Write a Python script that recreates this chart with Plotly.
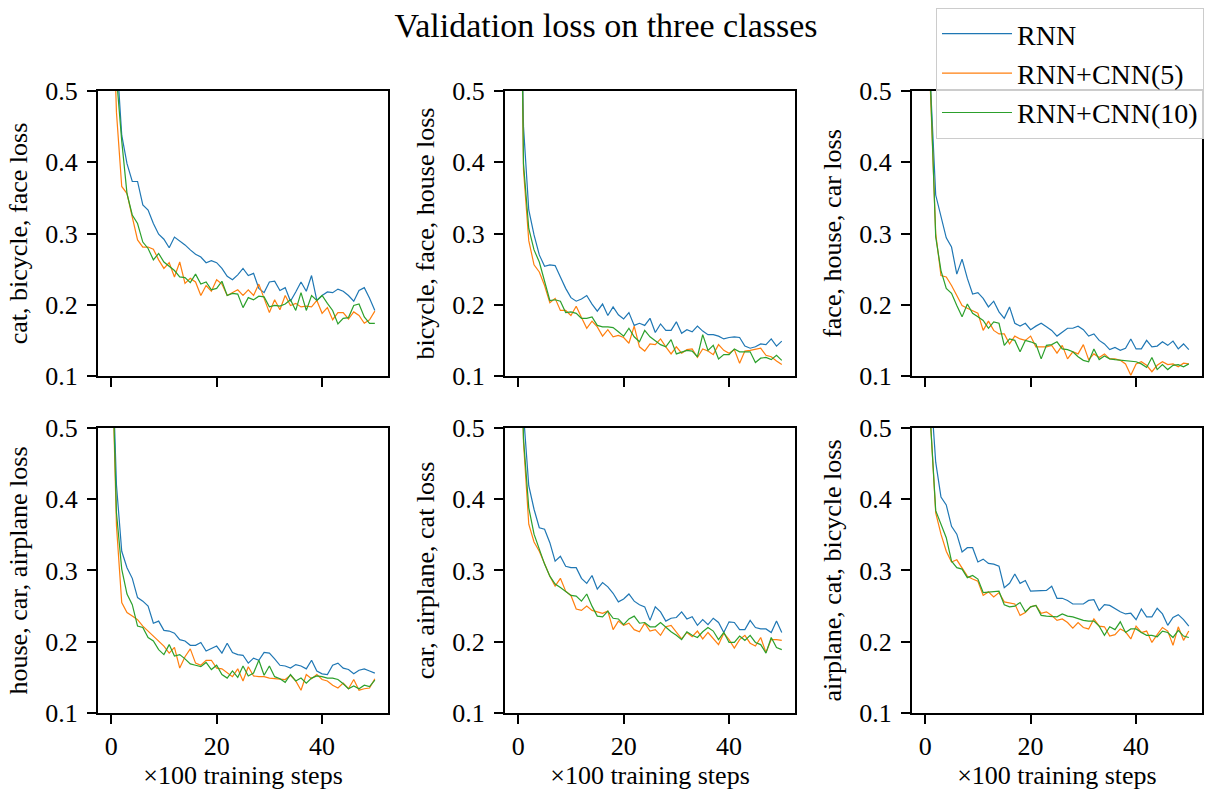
import plotly.graph_objects as go

steps = list(range(51))

series_names = ["RNN", "RNN+CNN(5)", "RNN+CNN(10)"]
series_colors = ["#1f77b4", "#ff7f0e", "#2ca02c"]

panel_labels = [
    "cat, bicycle, face loss",
    "bicycle, face, house loss",
    "face, house, car loss",
    "house, car, airplane loss",
    "car, airplane, cat loss",
    "airplane, cat, bicycle loss",
]

p1_rnn = [0.80, 0.554, 0.438, 0.398, 0.373, 0.373, 0.340, 0.333, 0.314, 0.299, 0.292, 0.280, 0.295, 0.290, 0.284, 0.277, 0.271, 0.267, 0.259, 0.262, 0.259, 0.251, 0.240, 0.235, 0.242, 0.251, 0.241, 0.244, 0.223, 0.217, 0.232, 0.233, 0.220, 0.224, 0.205, 0.218, 0.232, 0.219, 0.241, 0.206, 0.213, 0.218, 0.217, 0.222, 0.219, 0.213, 0.205, 0.220, 0.224, 0.209, 0.192]
p1_cnn5 = [0.70, 0.47, 0.366, 0.356, 0.323, 0.291, 0.281, 0.281, 0.278, 0.263, 0.251, 0.259, 0.239, 0.260, 0.230, 0.237, 0.232, 0.213, 0.227, 0.219, 0.235, 0.229, 0.213, 0.217, 0.221, 0.213, 0.221, 0.213, 0.229, 0.209, 0.189, 0.207, 0.193, 0.213, 0.199, 0.202, 0.197, 0.198, 0.197, 0.206, 0.188, 0.196, 0.179, 0.189, 0.189, 0.180, 0.190, 0.185, 0.174, 0.179, 0.191]
p1_cnn10 = [0.80, 0.52, 0.43, 0.356, 0.326, 0.314, 0.288, 0.279, 0.263, 0.272, 0.260, 0.254, 0.248, 0.239, 0.238, 0.231, 0.243, 0.229, 0.232, 0.221, 0.223, 0.233, 0.213, 0.216, 0.215, 0.196, 0.210, 0.207, 0.212, 0.211, 0.197, 0.199, 0.198, 0.201, 0.207, 0.192, 0.217, 0.192, 0.213, 0.206, 0.213, 0.202, 0.192, 0.173, 0.181, 0.182, 0.199, 0.201, 0.183, 0.174, 0.174]

p2_rnn = [0.87, 0.450, 0.333, 0.298, 0.270, 0.254, 0.256, 0.255, 0.239, 0.223, 0.210, 0.205, 0.208, 0.213, 0.201, 0.191, 0.201, 0.185, 0.197, 0.186, 0.180, 0.189, 0.171, 0.174, 0.171, 0.181, 0.161, 0.173, 0.164, 0.164, 0.176, 0.160, 0.165, 0.162, 0.170, 0.163, 0.158, 0.158, 0.156, 0.152, 0.154, 0.155, 0.154, 0.142, 0.139, 0.141, 0.145, 0.144, 0.152, 0.142, 0.149]
p2_cnn5 = [1.0, 0.389, 0.290, 0.256, 0.246, 0.227, 0.203, 0.209, 0.192, 0.192, 0.185, 0.198, 0.182, 0.167, 0.177, 0.169, 0.156, 0.165, 0.155, 0.157, 0.154, 0.146, 0.170, 0.141, 0.135, 0.145, 0.144, 0.152, 0.141, 0.131, 0.141, 0.132, 0.137, 0.138, 0.126, 0.138, 0.135, 0.130, 0.144, 0.136, 0.132, 0.137, 0.118, 0.135, 0.136, 0.138, 0.139, 0.129, 0.127, 0.121, 0.116]
p2_cnn10 = [1.0, 0.398, 0.307, 0.277, 0.260, 0.234, 0.206, 0.207, 0.205, 0.189, 0.190, 0.188, 0.181, 0.181, 0.183, 0.171, 0.169, 0.169, 0.168, 0.162, 0.156, 0.167, 0.155, 0.148, 0.164, 0.155, 0.149, 0.144, 0.141, 0.151, 0.131, 0.134, 0.136, 0.135, 0.127, 0.158, 0.136, 0.143, 0.124, 0.130, 0.130, 0.138, 0.134, 0.134, 0.134, 0.119, 0.125, 0.126, 0.123, 0.129, 0.122]

p3_rnn = [0.80, 0.51, 0.354, 0.323, 0.294, 0.281, 0.243, 0.264, 0.237, 0.215, 0.217, 0.209, 0.197, 0.205, 0.190, 0.181, 0.197, 0.174, 0.170, 0.174, 0.165, 0.170, 0.174, 0.169, 0.164, 0.156, 0.162, 0.167, 0.167, 0.170, 0.165, 0.156, 0.159, 0.150, 0.145, 0.137, 0.140, 0.136, 0.139, 0.152, 0.138, 0.138, 0.150, 0.141, 0.142, 0.148, 0.143, 0.149, 0.138, 0.145, 0.137]
p3_cnn5 = [0.80, 0.50, 0.300, 0.241, 0.239, 0.227, 0.213, 0.199, 0.195, 0.192, 0.188, 0.164, 0.177, 0.164, 0.159, 0.159, 0.145, 0.156, 0.152, 0.150, 0.156, 0.141, 0.141, 0.141, 0.143, 0.132, 0.143, 0.124, 0.134, 0.131, 0.144, 0.123, 0.131, 0.126, 0.131, 0.124, 0.124, 0.122, 0.117, 0.101, 0.117, 0.120, 0.115, 0.106, 0.115, 0.120, 0.116, 0.117, 0.113, 0.118, 0.117]
p3_cnn10 = [0.80, 0.51, 0.295, 0.248, 0.223, 0.216, 0.199, 0.183, 0.201, 0.188, 0.183, 0.178, 0.167, 0.176, 0.174, 0.143, 0.152, 0.150, 0.134, 0.150, 0.148, 0.145, 0.124, 0.143, 0.144, 0.148, 0.138, 0.137, 0.134, 0.127, 0.122, 0.120, 0.138, 0.123, 0.128, 0.124, 0.123, 0.122, 0.121, 0.121, 0.120, 0.117, 0.112, 0.126, 0.109, 0.116, 0.109, 0.115, 0.116, 0.113, 0.117]

p4_rnn = [0.65, 0.42, 0.327, 0.304, 0.289, 0.262, 0.257, 0.250, 0.226, 0.229, 0.216, 0.215, 0.212, 0.203, 0.201, 0.195, 0.195, 0.199, 0.187, 0.190, 0.194, 0.184, 0.198, 0.185, 0.182, 0.181, 0.170, 0.177, 0.174, 0.185, 0.184, 0.176, 0.167, 0.166, 0.163, 0.168, 0.166, 0.162, 0.174, 0.159, 0.155, 0.154, 0.167, 0.170, 0.163, 0.161, 0.155, 0.160, 0.162, 0.159, 0.156]
p4_cnn5 = [0.65, 0.363, 0.255, 0.241, 0.236, 0.231, 0.222, 0.215, 0.208, 0.202, 0.194, 0.184, 0.192, 0.163, 0.179, 0.190, 0.170, 0.167, 0.174, 0.174, 0.163, 0.162, 0.157, 0.151, 0.162, 0.145, 0.165, 0.152, 0.151, 0.151, 0.149, 0.148, 0.148, 0.147, 0.153, 0.145, 0.132, 0.154, 0.148, 0.154, 0.147, 0.145, 0.139, 0.135, 0.142, 0.134, 0.147, 0.132, 0.134, 0.135, 0.148]
p4_cnn10 = [0.65, 0.381, 0.302, 0.267, 0.252, 0.222, 0.220, 0.206, 0.201, 0.189, 0.182, 0.196, 0.180, 0.182, 0.176, 0.169, 0.167, 0.165, 0.171, 0.161, 0.167, 0.154, 0.149, 0.159, 0.150, 0.166, 0.152, 0.156, 0.174, 0.153, 0.166, 0.151, 0.148, 0.143, 0.154, 0.145, 0.149, 0.142, 0.149, 0.152, 0.151, 0.149, 0.149, 0.147, 0.141, 0.134, 0.138, 0.134, 0.139, 0.137, 0.146]

p5_rnn = [0.80, 0.52, 0.419, 0.386, 0.360, 0.358, 0.339, 0.313, 0.320, 0.306, 0.304, 0.304, 0.289, 0.282, 0.293, 0.274, 0.283, 0.277, 0.268, 0.256, 0.260, 0.267, 0.257, 0.252, 0.249, 0.230, 0.249, 0.242, 0.229, 0.233, 0.234, 0.242, 0.232, 0.235, 0.223, 0.231, 0.224, 0.233, 0.227, 0.213, 0.228, 0.227, 0.217, 0.217, 0.230, 0.220, 0.218, 0.218, 0.213, 0.229, 0.213]
p5_cnn5 = [0.80, 0.48, 0.365, 0.340, 0.327, 0.310, 0.292, 0.278, 0.289, 0.271, 0.265, 0.246, 0.244, 0.250, 0.244, 0.242, 0.240, 0.243, 0.217, 0.229, 0.223, 0.226, 0.217, 0.214, 0.226, 0.215, 0.217, 0.209, 0.221, 0.223, 0.214, 0.204, 0.213, 0.207, 0.215, 0.204, 0.213, 0.204, 0.196, 0.212, 0.203, 0.191, 0.203, 0.209, 0.198, 0.194, 0.206, 0.185, 0.203, 0.203, 0.202]
p5_cnn10 = [0.80, 0.485, 0.388, 0.351, 0.330, 0.309, 0.292, 0.281, 0.276, 0.271, 0.265, 0.264, 0.257, 0.267, 0.250, 0.236, 0.235, 0.243, 0.233, 0.232, 0.224, 0.232, 0.236, 0.226, 0.227, 0.221, 0.221, 0.227, 0.220, 0.214, 0.209, 0.203, 0.214, 0.209, 0.206, 0.214, 0.220, 0.215, 0.203, 0.213, 0.199, 0.199, 0.208, 0.202, 0.209, 0.199, 0.196, 0.184, 0.206, 0.192, 0.189]

p6_rnn = [0.80, 0.56, 0.452, 0.403, 0.392, 0.362, 0.351, 0.326, 0.332, 0.332, 0.312, 0.316, 0.310, 0.309, 0.306, 0.276, 0.282, 0.295, 0.282, 0.286, 0.271, 0.271, 0.272, 0.272, 0.278, 0.261, 0.261, 0.258, 0.253, 0.253, 0.253, 0.258, 0.259, 0.244, 0.252, 0.251, 0.246, 0.242, 0.239, 0.240, 0.231, 0.246, 0.235, 0.235, 0.247, 0.239, 0.223, 0.234, 0.238, 0.231, 0.222]
p6_cnn5 = [0.80, 0.51, 0.381, 0.351, 0.327, 0.312, 0.315, 0.303, 0.292, 0.288, 0.285, 0.265, 0.270, 0.263, 0.269, 0.256, 0.254, 0.253, 0.237, 0.241, 0.249, 0.251, 0.240, 0.242, 0.237, 0.230, 0.232, 0.227, 0.219, 0.227, 0.220, 0.218, 0.232, 0.222, 0.221, 0.208, 0.210, 0.218, 0.214, 0.204, 0.222, 0.213, 0.215, 0.199, 0.210, 0.220, 0.215, 0.195, 0.221, 0.202, 0.215]
p6_cnn10 = [0.80, 0.51, 0.384, 0.365, 0.346, 0.313, 0.304, 0.302, 0.290, 0.293, 0.288, 0.269, 0.270, 0.270, 0.271, 0.252, 0.249, 0.250, 0.255, 0.242, 0.249, 0.251, 0.237, 0.236, 0.235, 0.235, 0.239, 0.236, 0.235, 0.232, 0.230, 0.229, 0.229, 0.222, 0.209, 0.221, 0.217, 0.228, 0.213, 0.218, 0.218, 0.213, 0.209, 0.209, 0.207, 0.215, 0.213, 0.206, 0.216, 0.208, 0.206]

x_tick_vals = [0, 20, 40]
y_tick_vals = [0.1, 0.2, 0.3, 0.4, 0.5]
x_title = "×100 training steps"
fig_title = "Validation loss on three classes"

panels = [
    [p1_rnn, p1_cnn5, p1_cnn10],
    [p2_rnn, p2_cnn5, p2_cnn10],
    [p3_rnn, p3_cnn5, p3_cnn10],
    [p4_rnn, p4_cnn5, p4_cnn10],
    [p5_rnn, p5_cnn5, p5_cnn10],
    [p6_rnn, p6_cnn5, p6_cnn10],
]

FONT = "Liberation Serif"
W, H = 1219, 790
ML, MR, MT, MB = 98, 17, 91, 77

col_domains = [[0.0, 0.2627], [0.3687, 0.6313], [0.7373, 1.0]]
row_domains = [[0.5418, 1.0], [0.0, 0.4582]]

fig = go.Figure()
layout = {}
for i, series in enumerate(panels):
    r, c = divmod(i, 3)
    n = i + 1
    xa = "x" if n == 1 else f"x{n}"
    ya = "y" if n == 1 else f"y{n}"
    for s, (vals, name, col) in enumerate(zip(series, series_names, series_colors)):
        fig.add_trace(go.Scatter(
            x=steps, y=vals, mode="lines", name=name,
            line=dict(color=col, width=1.2),
            xaxis=xa, yaxis=ya, showlegend=(i == 0), legendrank=s,
        ))
    axis_common = dict(
        showline=True, linecolor="black", linewidth=2, mirror=True,
        ticks="outside", ticklen=9, tickwidth=2, tickcolor="black",
        showgrid=False, zeroline=False,
        tickfont=dict(family=FONT, size=26, color="black"),
    )
    xkey = "xaxis" if n == 1 else f"xaxis{n}"
    ykey = "yaxis" if n == 1 else f"yaxis{n}"
    layout[xkey] = dict(
        axis_common, domain=col_domains[c], anchor=ya,
        range=[-2.5, 52.5], tickvals=x_tick_vals,
        showticklabels=(r == 1),
        title=dict(text=x_title if r == 1 else "", font=dict(family=FONT, size=26, color="black"), standoff=6),
    )
    layout[ykey] = dict(
        axis_common, domain=row_domains[r], anchor=xa,
        range=[0.1, 0.5], tickvals=y_tick_vals, tickformat=".1f",
        ticklabelstandoff=4,
        title=dict(text=panel_labels[i], font=dict(family=FONT, size=26, color="black"), standoff=10),
    )

fig.update_layout(**layout)
fig.update_layout(
    width=W, height=H,
    margin=dict(l=ML, r=MR, t=MT, b=MB, autoexpand=False),
    paper_bgcolor="white", plot_bgcolor="white",
    font=dict(family=FONT, size=26, color="black"),
    title=dict(text=fig_title, xref="container", yref="container",
               x=606 / W, y=1 - 25 / H, xanchor="center", yanchor="middle",
               font=dict(family=FONT, size=34, color="black")),
    legend=dict(xref="container", yref="container", x=936 / W, y=1 - 8 / H,
                xanchor="left", yanchor="top",
                bgcolor="rgba(255,255,255,0.8)", bordercolor="#cccccc", borderwidth=1,
                font=dict(family=FONT, size=28, color="black"),
                itemwidth=70, tracegroupgap=0),
    showlegend=True,
)

fig.write_html("out.html", config={"displayModeBar": False},
               post_script="document.body.style.margin='0';document.body.style.overflow='hidden';")
